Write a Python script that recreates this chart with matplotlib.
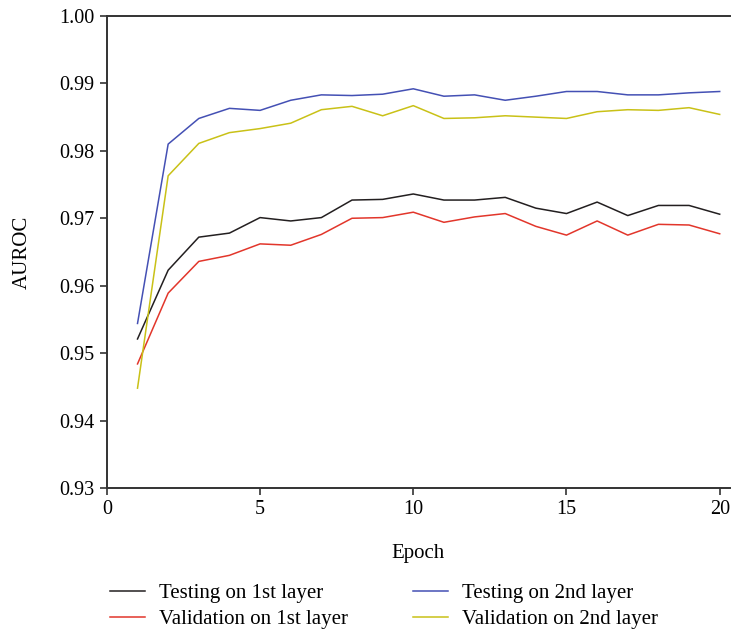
import matplotlib
matplotlib.use("Agg")
import matplotlib.pyplot as plt

# AUROC per epoch for the two layers
epochs = list(range(1, 21))
test_1st = [0.9521, 0.9623, 0.9672, 0.9678, 0.9701, 0.9696, 0.9701, 0.9727, 0.9728, 0.9736,
            0.9727, 0.9727, 0.9731, 0.9715, 0.9707, 0.9724, 0.9704, 0.9719, 0.9719, 0.9706]
val_1st = [0.9484, 0.9589, 0.9636, 0.9645, 0.9662, 0.9660, 0.9676, 0.9700, 0.9701, 0.9709,
           0.9694, 0.9702, 0.9707, 0.9688, 0.9675, 0.9696, 0.9675, 0.9691, 0.9690, 0.9677]
test_2nd = [0.9544, 0.9810, 0.9848, 0.9863, 0.9860, 0.9875, 0.9883, 0.9882, 0.9884, 0.9892,
            0.9881, 0.9883, 0.9875, 0.9881, 0.9888, 0.9888, 0.9883, 0.9883, 0.9886, 0.9888]
val_2nd = [0.9448, 0.9763, 0.9811, 0.9827, 0.9833, 0.9841, 0.9861, 0.9866, 0.9852, 0.9867,
           0.9848, 0.9849, 0.9852, 0.9850, 0.9848, 0.9858, 0.9861, 0.9860, 0.9864, 0.9854]

labels = ["Testing on 1st layer", "Validation on 1st layer",
          "Testing on 2nd layer", "Validation on 2nd layer"]
colors = ["#231f20", "#e2362b", "#4450b4", "#c9c117"]

plt.rcParams["font.family"] = ["Liberation Serif", "DejaVu Serif"]
plt.rcParams["font.size"] = 15

fig = plt.figure(figsize=(7.32, 6.29), dpi=100)
ax = fig.add_axes([0.146, 0.2242, 0.851, 0.7504])

series = [test_1st, val_1st, test_2nd, val_2nd]
for vals, c, lab in zip(series, colors, labels):
    ax.plot(epochs, vals, color=c, lw=1.1, label=lab)

ax.set_xlim(0, 20.33)
ax.set_ylim(0.93, 1.00)
ax.set_xticks([0, 5, 10, 15, 20])
ax.set_yticks([0.93, 0.94, 0.95, 0.96, 0.97, 0.98, 0.99, 1.00])
ax.yaxis.set_major_formatter(plt.FormatStrFormatter("%.2f"))

for s in ["left", "top", "bottom"]:
    ax.spines[s].set_color("#333333")
    ax.spines[s].set_linewidth(1.4)
ax.spines["right"].set_visible(False)
ax.tick_params(direction="out", length=5, width=1.2, color="#333333", labelsize=14.5, pad=4)

ax.set_xlabel("Epoch", fontsize=15, labelpad=18)
ax.set_ylabel("AUROC", fontsize=15, labelpad=20)

ax.legend(loc="upper left", bbox_to_anchor=(0.1253, 0.102), bbox_transform=fig.transFigure,
          ncol=2, frameon=False, fontsize=15, handlelength=1.68, handletextpad=0.67,
          columnspacing=3.1, labelspacing=0.3)

fig.savefig("out.png", dpi=100)
